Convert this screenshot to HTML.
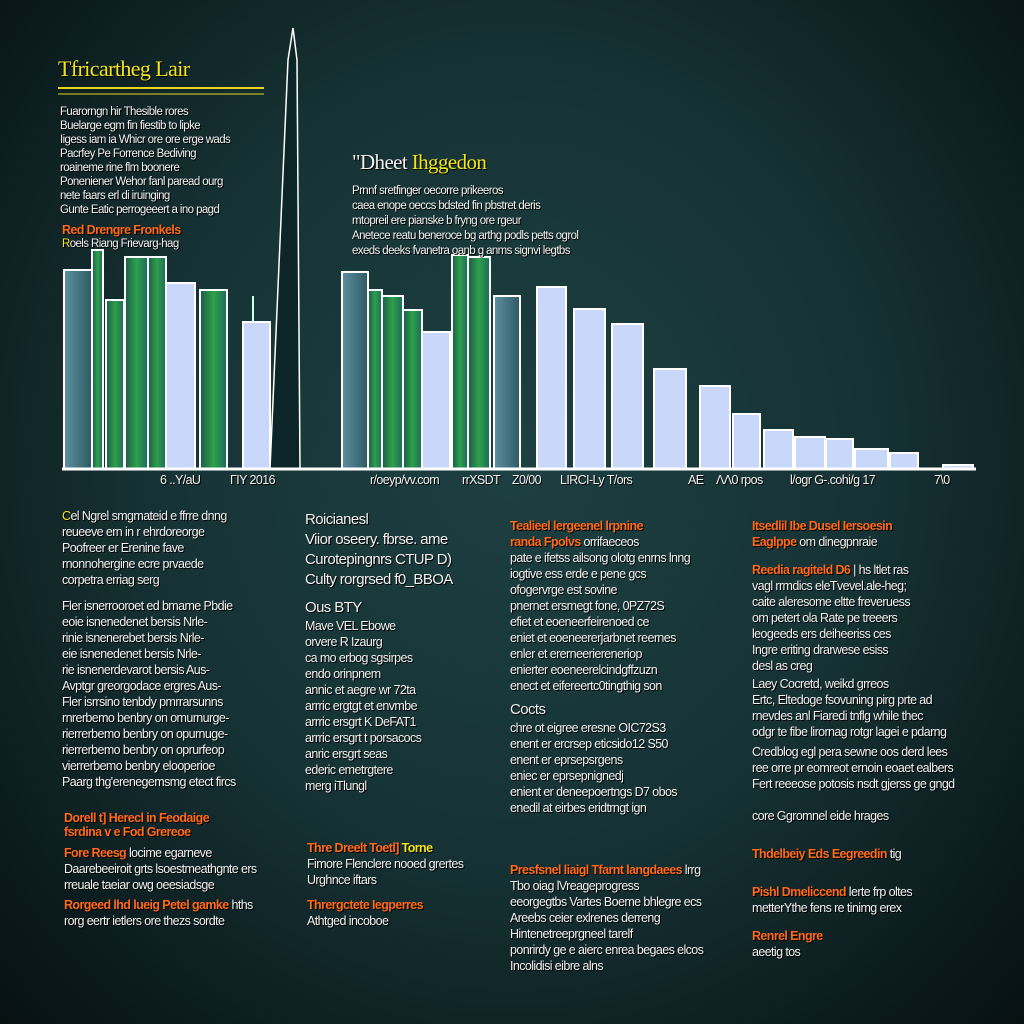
<!DOCTYPE html>
<html><head><meta charset="utf-8"><style>
html,body{margin:0;padding:0;width:1024px;height:1024px;overflow:hidden}
body{background:radial-gradient(ellipse at 50% 45%,#1d4042 0%,#163234 50%,#0b1a1c 85%,#071112 100%);font-family:"Liberation Sans",sans-serif;position:relative;color:#f2f2f2}
.t{position:absolute;font-size:12.5px;line-height:16px;letter-spacing:-0.6px;white-space:nowrap;text-shadow:1px 1px 0 #000}
.h{color:#ff6a1a;font-weight:bold}
.y{color:#f3e61a}
</style></head><body>
<svg width="1024" height="1024" style="position:absolute;left:0;top:0">
<defs>
<linearGradient id="g" x1="0" x2="1"><stop offset="0" stop-color="#1c5a4a"/><stop offset=".5" stop-color="#2ea04a"/><stop offset="1" stop-color="#1c6a5a"/></linearGradient>
<linearGradient id="b" x1="0" x2="1"><stop offset="0" stop-color="#5f8fa0"/><stop offset="1" stop-color="#2d5a62"/></linearGradient>
</defs>
<g stroke="#000" stroke-width="2">
<rect x="64" y="270" width="28" height="199" fill="url(#b)" stroke="#fff"/>
<rect x="92" y="250" width="11" height="219" fill="url(#g)" stroke="#fff"/>
<rect x="106" y="300" width="18" height="169" fill="url(#g)" stroke="#fff"/>
<rect x="125" y="257" width="23" height="212" fill="url(#g)" stroke="#fff"/>
<rect x="148" y="257" width="18" height="212" fill="url(#g)" stroke="#fff"/>
<rect x="166" y="283" width="29" height="186" fill="#c9d8fa" stroke="#fff"/>
<rect x="200" y="290" width="27" height="179" fill="url(#g)" stroke="#fff"/>
<rect x="243" y="322" width="27" height="147" fill="#c9d8fa" stroke="#fff"/>
<line x1="253" y1="296" x2="253" y2="322" stroke="#cfe" />
<path d="M270 469 L288 60 L293 28 L297 60 L300 469" fill="#0c2528" stroke="#fff" stroke-width="1.5"/>
<rect x="342" y="272" width="26" height="197" fill="url(#b)" stroke="#fff"/>
<rect x="368" y="290" width="14" height="179" fill="url(#g)" stroke="#fff"/>
<rect x="382" y="296" width="21" height="173" fill="url(#g)" stroke="#fff"/>
<rect x="403" y="310" width="19" height="159" fill="url(#g)" stroke="#fff"/>
<rect x="422" y="332" width="28" height="137" fill="#c9d8fa" stroke="#fff"/>
<rect x="452" y="255" width="16" height="214" fill="url(#g)" stroke="#fff"/>
<rect x="468" y="257" width="22" height="212" fill="url(#g)" stroke="#fff"/>
<rect x="494" y="296" width="26" height="173" fill="url(#b)" stroke="#fff"/>
<g fill="#c9d8fa" stroke="#fff">
<rect x="537" y="287" width="29" height="182"/>
<rect x="574" y="309" width="31" height="160"/>
<rect x="612" y="324" width="31" height="145"/>
<rect x="654" y="369" width="32" height="100"/>
<rect x="700" y="386" width="30" height="83"/>
<rect x="733" y="414" width="27" height="55"/>
<rect x="764" y="430" width="29" height="39"/>
<rect x="795" y="437" width="30" height="32"/>
<rect x="826" y="439" width="27" height="30"/>
<rect x="855" y="449" width="33" height="20"/>
<rect x="890" y="453" width="28" height="16"/>
<rect x="943" y="465" width="30" height="4"/>
</g>
</g>
<line x1="62" y1="469" x2="976" y2="469" stroke="#fff" stroke-width="3"/>
<line x1="58" y1="88" x2="264" y2="88" stroke="#e8d61a" stroke-width="2"/>
<line x1="58" y1="94" x2="264" y2="94" stroke="#e8d61a" stroke-width="1"/>
</svg>
<div class="t y" style="left:58px;top:57px;font-size:22px;line-height:24px;font-family:'Liberation Serif',serif">Tfricartheg Lair</div>
<div class="t" style="left:60px;top:105px;line-height:14px;font-size:11.5px">Fuarorngn hir Thesible rores<br>Buelarge egm fin fiestib to lipke<br>Iigess iam ia Whicr ore ore erge wads<br>Pacrfey Pe Forrence Bediving<br>roaineme rine flm boonere<br>Poneniener Wehor fanl paread ourg<br>nete faars erl di iruinging<br>Gunte Eatic perrogeeert a ino pagd</div>
<div class="t h" style="left:62px;top:222px">Red Drengre Fronkels</div>
<div class="t" style="left:62px;top:236px;font-size:11.5px"><span class="y">R</span>oels Riang Frievarg-hag</div>
<div class="t" style="left:352px;top:150px;font-size:21px;line-height:24px;font-family:'Liberation Serif',serif">"Dheet <span class="y">Ihggedon</span></div>
<div class="t" style="left:352px;top:184px;line-height:15px;font-size:11.5px">Prnnf sretfinger oecorre prikeeros<br>caea enope oeccs bdsted fin pbstret deris<br>mtopreil ere pianske b fryng ore rgeur<br>Anetece reatu beneroce bg arthg podls petts ogrol<br>exeds deeks fvanetra oanb g anms signvi legtbs</div>
<div class="t" style="left:160px;top:472px">6 ..Y/aU</div>
<div class="t" style="left:230px;top:472px">ΓΙΥ 2016</div>
<div class="t" style="left:370px;top:472px">r/oeyp/vv.com</div>
<div class="t" style="left:462px;top:472px">rrXSDT</div>
<div class="t" style="left:512px;top:472px">Z0/00</div>
<div class="t" style="left:560px;top:472px">LIRCI-Ly T/ors</div>
<div class="t" style="left:688px;top:472px">AE</div>
<div class="t" style="left:716px;top:472px">ΛΛ0 rpos</div>
<div class="t" style="left:790px;top:472px">l/ogr G-.cohi/g 17</div>
<div class="t" style="left:934px;top:472px">7\0</div>

<div class="t" style="left:62px;top:508px"><span class="y">C</span>el Ngrel smgmateid e ffrre dnng<br>reueeve ern in r ehrdoreorge<br>Poofreer er Erenine fave<br>rnonnohergine ecre prvaede<br>corpetra erriag serg</div>
<div class="t" style="left:62px;top:598px">Fler isnerrooroet ed bmame Pbdie<br>eoie isnenedenet bersis Nrle-<br>rinie isnenerebet bersis Nrle-<br>eie isnenedenet bersis Nrle-<br>rie isnenerdevarot bersis Aus-<br>Avptgr greorgodace ergres Aus-<br>Fler isrrsino tenbdy pmrrarsunns<br>rnrerbemo benbry on omurnurge-<br>rierrerbemo benbry on opurnuge-<br>rierrerbemo benbry on oprurfeop<br>vierrerbemo benbry elooperioe<br>Paarg thg'erenegemsmg etect fircs</div>
<div class="t h" style="left:64px;top:810px">Dorell t] Herecl in Feodaige</div>
<div class="t" style="left:64px;top:824px"><span class="h">fsrdina v e Fod Grereoe</span></div>
<div class="t" style="left:64px;top:845px"><span class="h">Fore Reesg</span> locime egarneve<br>Daarebeeiroit grts lsoestmeathgnte ers<br>rreuale taeiar owg oeesiadsge</div>
<div class="t" style="left:64px;top:897px"><span class="h">Rorgeed lhd lueig Petel gamke</span> hths<br>rorg eertr ietlers ore thezs sordte</div>

<div class="t" style="left:305px;top:510px;font-size:15px;line-height:20px">Roicianesl<br>Viior oseery. fbrse. ame<br>Curotepingnrs CTUP D)<br>Culty rorgrsed f0_BBOA</div>
<div class="t" style="left:305px;top:600px;font-size:15px">Ous BTY</div>
<div class="t" style="left:305px;top:618px">Mave VEL Ebowe<br>orvere R Izaurg<br>ca mo erbog sgsirpes<br>endo orinpnem<br>annic et aegre wr 72ta<br>arrric ergtgt et envmbe<br>arrric ersgrt K DeFAT1<br>arrric ersgrt t porsacocs<br>anric ersgrt seas<br>ederic emetrgtere<br>merg iTlungl</div>
<div class="t" style="left:307px;top:840px"><span class="h">Thre Dreelt Toetl] <span class="y">Torne</span></span><br>Fimore Flenclere nooed grertes<br>Urghnce iftars</div>
<div class="t" style="left:307px;top:897px"><span class="h">Thrergctete Iegperres</span><br>Athtged incoboe</div>

<div class="t" style="left:510px;top:518px"><span class="h">Tealieel lergeenel lrpnine</span><br><span class="h">randa Fpolvs</span> orrifaeceos<br>pate e ifetss ailsong olotg enrns lnng<br>iogtive ess erde e pene gcs<br>ofogervrge est sovine<br>pnernet ersmegt fone, 0PZ72S<br>efiet et eoeneerfeirenoed ce<br>eniet et eoeneererjarbnet reernes<br>enler et ererneeriereneriop<br>enierter eoeneerelcindgffzuzn<br>enect et eifereertc0tingthig son</div>
<div class="t" style="left:510px;top:702px;font-size:15px">Cocts</div>
<div class="t" style="left:510px;top:720px">chre ot eigree eresne <span>OIC72S3</span><br>enent er ercrsep eticsido12 S50<br>enent er eprsepsrgens<br>eniec er eprsepnignedj<br>enient er deneepoertngs D7 obos<br>enedil at eirbes eridtrngt ign</div>
<div class="t" style="left:510px;top:862px"><span class="h">Presfsnel liaigl Tfarnt langdaees</span> lrrg<br>Tbo oiag lVreageprogress<br>eeorgegtbs Vartes Boeme bhlegre ecs<br>Areebs ceier exlrenes derreng<br>Hintenetreeprgneel tarelf<br>ponrirdy ge e aierc enrea begaes elcos<br>Incolidisi eibre alns</div>

<div class="t" style="left:752px;top:518px"><span class="h">Itsedlil Ibe Dusel Iersoesin</span><br><span class="h">Eaglppe</span> om dinegpnraie</div>
<div class="t" style="left:752px;top:562px"><span class="h">Reedia ragiteld D6</span> | hs ltlet ras<br>vagl rrmdics eleTvevel.ale-heg;<br>caite aleresome eltte freveruess<br>om petert ola Rate pe treeers<br>leogeeds ers deiheeriss ces<br>Ingre eriting drarwese esiss<br>desl as creg</div>
<div class="t" style="left:752px;top:676px">Laey Cocretd, weikd grreos<br>Ertc, Eltedoge fsovuning pirg prte ad<br>rnevdes anl Fiaredi tnflg while thec<br>odgr te fibe lirornag rotgr lagei e pdarng</div>
<div class="t" style="left:752px;top:744px">Credblog egl pera sewne oos derd lees<br>ree orre pr eomreot ernoin eoaet ealbers<br>Fert reeeose potosis nsdt gjerss ge gngd</div>
<div class="t" style="left:752px;top:808px">core Ggromnel eide hrages</div>
<div class="t" style="left:752px;top:846px"><span class="h">Thdelbeiy Eds Eegreedin</span> tig</div>
<div class="t" style="left:752px;top:884px"><span class="h">Pishl Dmeliccend</span> lerte frp oltes<br>metterYthe fens re tinimg erex</div>
<div class="t" style="left:752px;top:928px"><span class="h">Renrel Engre</span><br>aeetig tos</div>
</body></html>
